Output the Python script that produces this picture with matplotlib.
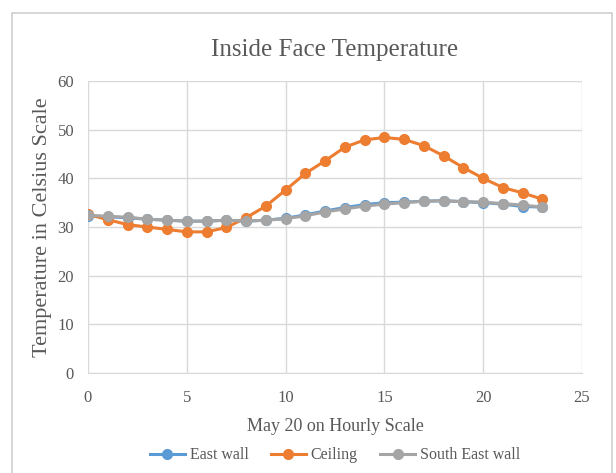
import matplotlib.pyplot as plt
from matplotlib.patches import Rectangle

hours = list(range(24))

east_wall = [32.3, 32.1, 31.9, 31.6, 31.4, 31.2, 31.2, 31.4, 31.2, 31.4, 31.8, 32.5,
             33.3, 34.0, 34.6, 35.0, 35.1, 35.3, 35.4, 35.2, 35.0, 34.7, 34.2, 34.1]
ceiling = [32.6, 31.5, 30.5, 30.0, 29.5, 29.0, 29.0, 29.9, 31.9, 34.3, 37.6, 41.0,
           43.6, 46.4, 47.9, 48.4, 48.0, 46.7, 44.6, 42.2, 40.0, 38.1, 37.0, 35.7]
south_east_wall = [32.4, 32.2, 32.0, 31.6, 31.4, 31.2, 31.2, 31.4, 31.2, 31.4, 31.7, 32.3,
                   33.1, 33.7, 34.3, 34.7, 35.0, 35.3, 35.4, 35.2, 35.1, 34.8, 34.5, 34.1]

x_ticks = [0, 5, 10, 15, 20, 25]
y_ticks = [0, 10, 20, 30, 40, 50, 60]

plt.rcParams['font.family'] = ['Liberation Serif', 'DejaVu Serif']
text_col = '#595959'

fig = plt.figure(figsize=(6.16, 4.73), dpi=100)
# ramka wykresu jak w Excelu
fig.patches.append(Rectangle((12/616, -0.05), (612-12)/616, 1.05 - 13/473,
                             transform=fig.transFigure, fill=False,
                             edgecolor='#d0d0d0', linewidth=1.2))

ax = fig.add_axes([88/616, 1 - 373/473, (582-88)/616, (373-81)/473])

ax.plot(hours, east_wall, color='#5B9BD5', marker='o', markersize=7, linewidth=2.2, label='East wall')
ax.plot(hours, ceiling, color='#ED7D31', marker='o', markersize=7, linewidth=2.2, label='Ceiling')
ax.plot(hours, south_east_wall, color='#A5A5A5', marker='o', markersize=7, linewidth=2.2, label='South East wall')

ax.set_xlim(0, 25)
ax.set_ylim(0, 60)
ax.set_xticks(x_ticks)
ax.set_yticks(y_ticks)
ax.grid(True, color='#d9d9d9', linewidth=1)
ax.set_axisbelow(True)
for s in ['top', 'right', 'left']:
    ax.spines[s].set_visible(False)
ax.spines['bottom'].set_color('#d9d9d9')
ax.tick_params(length=0, colors=text_col, labelsize=12, pad=12)
ax.tick_params(axis='y', pad=10)

ax.set_title('Inside Face Temperature', fontsize=18, color=text_col, pad=18)
ax.set_xlabel('May 20 on Hourly Scale', fontsize=13, color=text_col, labelpad=9)
ax.set_ylabel('Temperature in Celsius Scale', fontsize=16, color=text_col, labelpad=4)

leg = ax.legend(loc='upper center', bbox_to_anchor=(0.5, -0.205), ncol=3, frameon=False,
                fontsize=11.5, handlelength=2.2, columnspacing=1.4, handletextpad=0.3)
for t in leg.get_texts():
    t.set_color(text_col)

fig.savefig('out.png', dpi=100)
